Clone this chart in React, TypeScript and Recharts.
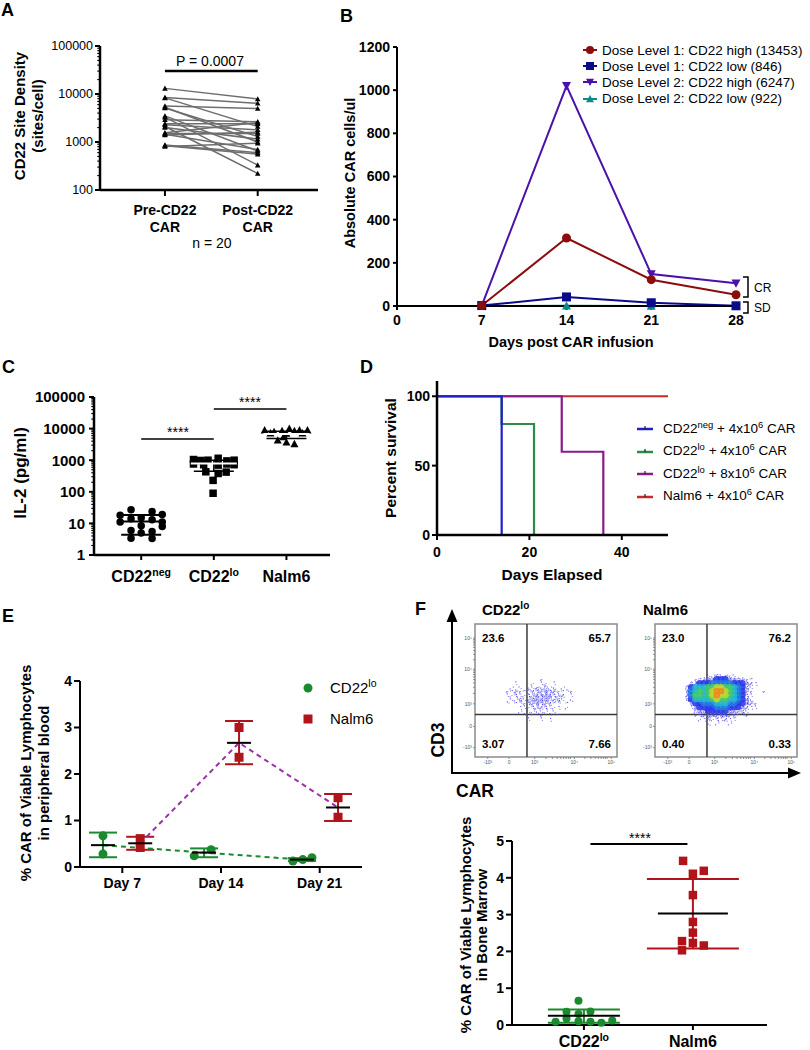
import React from 'react';
import {
  LineChart, Line, XAxis, YAxis, ScatterChart, Scatter, ReferenceLine, ReferenceArea, ErrorBar, Legend,
} from 'recharts';

const FONT = '"Liberation Sans", Arial, Helvetica, sans-serif';
const AX = { stroke: '#000', strokeWidth: 2 };

// ================= Panel A =================
const aCategoryLines = [['Pre-CD22', 'CAR'], ['Post-CD22', 'CAR']];
const aPre = [13100, 8500, 8300, 5600, 5300, 5100, 3500, 3300, 2900, 2400, 2300, 2100, 2000, 1550, 1500, 1450, 1400, 870, 840, 810];
const aPost = [7900, 6400, 2100, 5000, 1000, 1300, 650, 330, 2650, 2400, 1800, 220, 1150, 2550, 1500, 700, 1600, 600, 560, 950];
const aPBarY = 30000;
const aYMajor = [100, 1000, 10000, 100000];

// ================= Panel B =================
const bDays = [7, 14, 21, 28];
const bXTicks = [0, 7, 14, 21, 28];
const bYTicks = [0, 200, 400, 600, 800, 1000, 1200];
const bNames = [
  'Dose Level 1: CD22 high (13453)',
  'Dose Level 1: CD22 low (846)',
  'Dose Level 2: CD22 high (6247)',
  'Dose Level 2: CD22 low (922)',
];
const bDL1High = [2, 315, 122, 52];
const bDL1Low = [2, 42, 15, 1];
const bDL2High = [2, 1020, 148, 105];
const bDL2Low = [0, 1, 0, 0];
const bColors = ['#8b0d0d', '#0b0b8a', '#4a12a8', '#0e8a8a'];
const bShapes = ['circle', 'square', 'triDown', 'triUp'];

// ================= Panel C =================
const cCatBase = ['CD22', 'CD22', 'Nalm6'];
const cCatSup = ['neg', 'lo', ''];
const cYMajor = [1, 10, 100, 1000, 10000, 100000];
const cNegOff = [-0.14, 0.15, -0.29, 0.29, -0.14, 0, 0.15, -0.29, 0.29, 0, 0.29, -0.14, 0, 0.15, -0.14, 0.15];
const cNegVal = [27, 24, 18, 19, 14, 15, 13, 11, 11, 8.5, 8, 6, 5, 5.5, 3.4, 3.3];
const cLoOff = [-0.28, -0.18, -0.08, 0.06, 0.18, 0.28, -0.28, -0.14, 0.06, 0.18, 0.28, -0.11, 0.06, 0.17, -0.01, -0.01];
const cLoVal = [1050, 980, 1000, 1150, 950, 1000, 760, 720, 700, 760, 720, 430, 380, 420, 230, 90];
const cNalmOff = [-0.3, -0.17, -0.06, 0.04, 0.11, 0.18, 0.29, -0.22, 0, 0.22, -0.12, 0, 0.11, -0.04];
const cNalmVal = [9000, 8000, 8500, 10000, 8500, 9000, 9000, 7200, 7000, 7200, 4300, 3700, 3300, 5500];
const cMean = [11.5, 780, 6800];
const cLow = [4.4, 450, 4900];
const cHigh = [18.5, 1000, 8300];
const cSigFrom = [1, 2];
const cSigTo = [2, 3];
const cSigY = [4700, 42000];

// ================= Panel D =================
const dNames = [
  ['CD22', 'neg', ' + 4x10', '6', ' CAR'],
  ['CD22', 'lo', ' + 4x10', '6', ' CAR'],
  ['CD22', 'lo', ' + 8x10', '6', ' CAR'],
  ['Nalm6 + 4x10', '', '', '6', ' CAR'],
];
const dColors = ['#1f1fc8', '#2e8b4a', '#8a1a8a', '#c9282d'];
const dNeg = [{ x: 0, y: 100 }, { x: 14, y: 0 }];
const dLo4 = [{ x: 0, y: 100 }, { x: 14, y: 80 }, { x: 21, y: 0 }];
const dLo8 = [{ x: 0, y: 100 }, { x: 27, y: 60 }, { x: 36, y: 0 }];
const dNalm = [{ x: 0, y: 100 }, { x: 50, y: 100 }];
const dSeries = [dNeg, dLo4, dLo8, dNalm];

// ================= Panel E =================
const eDays = [7, 14, 21];
const eDayLabels = ['Day 7', 'Day 14', 'Day 21'];
const eGreenX = [5.63, 5.63, 12.1, 13.3, 19.1, 19.8, 20.45];
const eGreenY = [0.67, 0.28, 0.24, 0.37, 0.13, 0.16, 0.2];
const eRedX = [8.27, 8.27, 15.28, 15.28, 22.3, 22.3];
const eRedY = [0.61, 0.42, 3.0, 2.36, 1.49, 1.07];
const eGreenMeanX = [5.63, 12.8, 19.74];
const eGreenMean = [0.47, 0.31, 0.16];
const eGreenLow = [0.21, 0.21, 0.13];
const eGreenHigh = [0.74, 0.4, 0.19];
const eRedMeanX = [8.27, 15.28, 22.3];
const eRedMean = [0.51, 2.67, 1.28];
const eRedLow = [0.37, 2.21, 0.99];
const eRedHigh = [0.65, 3.14, 1.57];
const GREEN = '#1b8a2e';
const RED = '#b0141a';
const PURPLE = '#9b30a8';

// ================= Panel F (flow) =================
const FLOW_CELL = 3;
const FLOW_X0 = 18;
const FLOW_YTOP = 63;
const flowLoGrid = [
  '....................',
  '.........1..........',
  '...1...1.11.1.......',
  '..1.1.1121211.1.....',
  '.1121112223221111...',
  '.11211223333222.1...',
  '..1121233332221.1...',
  '.1.11122322211.1....',
  '....1112222111.1....',
  '....1.11111.1.......',
  '.....1.1.1.1.1......',
  '......1..1.1........',
  '....................',
];
const flowNalmGrid = [
  '......1121211.......',
  '...11233444332211...',
  '..2344455555444321..',
  '.2466677887765421...',
  '.3567678998765421..1',
  '.3577678988765421...',
  '.2466667877665431...',
  '..2445556665544321..',
  '..1344445554443211..',
  '...2334444433221....',
  '...1223333322111....',
  '....112121211.......',
  '......1.1..1........',
];
const flowGateX = 36.6;
const flowGateY = 32;
const flowXTicks = [9, 24, 42, 49.9, 54.5, 57.8, 60.4, 62.4, 64.2, 65.8, 67.2, 70, 77.3, 81.6, 84.6, 86.9, 88.8, 90.4, 91.8, 93, 96];
const flowYTicks = [7, 23, 40, 47.8, 52.4, 55.7, 58.2, 60.2, 62, 63.5, 64.8, 66, 73.1, 77.2, 80.1, 82.4, 84.3, 85.9, 87.2, 88.4, 89.5];
const flowXMajor = [9, 24, 42, 70, 96];
const flowYMajor = [7, 23, 40, 66, 89.5];
const flowTickLabels = ['-10³', '0', '10³', '10⁴', '10⁵'];
const flowQuadLo = ['23.6', '65.7', '3.07', '7.66'];
const flowQuadNalm = ['23.0', '76.2', '0.40', '0.33'];

// ================= Panel F (bone marrow) =================
const fCatBase = ['CD22', 'Nalm6'];
const fCatSup = ['lo', ''];
const fGreenOff = [-0.05, -0.16, 0.06, -0.05, -0.16, -0.26, -0.05, 0.06, 0.16, 0.26];
const fGreenVal = [0.66, 0.36, 0.37, 0.3, 0.18, 0.09, 0.1, 0.09, 0.06, 0.12];
const fRedOff = [-0.09, 0, 0.1, 0, 0, 0, -0.1, 0, 0.1, -0.1];
const fRedVal = [4.46, 4.11, 4.19, 3.53, 2.8, 2.51, 2.28, 2.23, 2.16, 2.03];
const fMean = [0.25, 3.03];
const fLow = [0.06, 2.08];
const fHigh = [0.42, 3.97];

// ================= helpers =================
const logTicks = (majors: number[]) =>
  majors.flatMap((m, i) => (i === majors.length - 1 ? [m] : [1, 2, 3, 4, 5, 6, 7, 8, 9].map((k) => k * m)));

const Marker = ({ cx, cy, shape, color, size }: any) => {
  if (cx == null || cy == null || isNaN(cx) || isNaN(cy)) return <g />;
  const s = size;
  if (shape === 'circle') return <circle cx={cx} cy={cy} r={s / 2} fill={color} />;
  if (shape === 'square') return <rect x={cx - s / 2} y={cy - s / 2} width={s} height={s} fill={color} />;
  if (shape === 'triDown')
    return <path d={`M${cx - s / 2},${cy - s * 0.42}L${cx + s / 2},${cy - s * 0.42}L${cx},${cy + s * 0.5}Z`} fill={color} />;
  return <path d={`M${cx - s / 2},${cy + s * 0.42}L${cx + s / 2},${cy + s * 0.42}L${cx},${cy - s * 0.5}Z`} fill={color} />;
};

const LogYTick = (p: any) => {
  const { x, y, payload, majors, fontSize, fontWeight, gap, len } = p;
  const v = payload.value;
  const isMajor = majors.includes(v);
  const ax = x + gap;
  return (
    <g>
      <line x1={ax - (isMajor ? len : len * 0.55)} x2={ax} y1={y} y2={y} stroke="#000" strokeWidth={isMajor ? 2 : 1.1} />
      {isMajor && (
        <text x={x} y={y} dy="0.355em" textAnchor="end" fontSize={fontSize} fontWeight={fontWeight} fill="#000">
          {v}
        </text>
      )}
    </g>
  );
};

const TwoLineTick = (p: any) => {
  const { x, y, payload, lines } = p;
  const ls = lines[Math.round(payload.value) - 1] || ['', ''];
  return (
    <text x={x} y={y} textAnchor="middle" fontSize={14} fontWeight="bold" fill="#000">
      <tspan x={x} dy="0.71em">{ls[0]}</tspan>
      <tspan x={x} dy="17">{ls[1]}</tspan>
    </text>
  );
};

const SupTick = (p: any) => {
  const { x, y, payload, bases, sups, fontSize } = p;
  const i = Math.round(payload.value) - 1;
  return (
    <text x={x} y={y} dy="0.71em" textAnchor="middle" fontSize={fontSize} fontWeight="bold" fill="#000">
      {bases[i]}
      {sups[i] ? <tspan dy={-fontSize * 0.42} fontSize={fontSize * 0.66}>{sups[i]}</tspan> : null}
    </text>
  );
};

const meanBar = (half: number, color: string) => (p: any) =>
  p.cx == null ? <g /> : <line x1={p.cx - half} x2={p.cx + half} y1={p.cy} y2={p.cy} stroke={color} strokeWidth={2} />;

const dotShape = (shape: string, color: string, size: number) => (p: any) =>
  <Marker cx={p.cx} cy={p.cy} shape={shape} color={color} size={size} />;

const summary = (xs: number[], mean: number[], low: number[], high: number[]) =>
  xs.map((x, i) => ({ x, y: mean[i], err: [mean[i] - low[i], high[i] - mean[i]] }));

// ================= Panel A =================
const aRows = [aPre, aPost].map((vals, i) => {
  const row: any = { x: i + 1 };
  vals.forEach((v, k) => (row[`s${k}`] = v));
  return row;
});

function PanelA() {
  return (
    <LineChart width={330} height={260} data={aRows} margin={{ top: 46, right: 12, bottom: 20, left: 40 }}>
      <XAxis dataKey="x" type="number" domain={[0.3, 2.65]} ticks={[1, 2]} interval={0} height={50}
        axisLine={{ stroke: '#000', strokeWidth: 2.5 }} tickLine={{ stroke: '#000', strokeWidth: 2 }} tickSize={6} tickMargin={9}
        tick={(p: any) => <TwoLineTick {...p} lines={aCategoryLines} />} />
      <YAxis type="number" scale="log" domain={[100, 100000]} ticks={logTicks(aYMajor)} interval={0} width={60}
        axisLine={{ stroke: '#000', strokeWidth: 2.5 }} tickLine={false} tickSize={5} tickMargin={2}
        tick={(p: any) => <LogYTick {...p} majors={aYMajor} fontSize={12.5} fontWeight="normal" gap={7} len={5} />} />
      {aPre.map((_, k) => (
        <Line key={k} dataKey={`s${k}`} stroke="#6e6e6e" strokeWidth={1.5} isAnimationActive={false}
          dot={(p: any) => <Marker key={`d${k}-${p.index}`} cx={p.cx} cy={p.cy} shape="triUp" color="#000" size={5.5} />} />
      ))}
      <ReferenceLine segment={[{ x: 1, y: aPBarY }, { x: 2, y: aPBarY }]} stroke="#000" strokeWidth={2.5} />
    </LineChart>
  );
}

// ================= Panel B =================
const bRows = bDays.map((d, i) => ({ day: d, s0: bDL1High[i], s1: bDL1Low[i], s2: bDL2High[i], s3: bDL2Low[i] }));
const bDrawOrder = [3, 2, 1, 0];

const BLegend = () => (
  <div style={{ fontFamily: FONT, fontSize: 13.5, color: '#000' }}>
    {bNames.map((n, i) => (
      <div key={i} style={{ display: 'flex', alignItems: 'center', height: 16.2, whiteSpace: 'nowrap' }}>
        <svg width={14} height={12}>
          <line x1={0} x2={14} y1={6} y2={6} stroke={bColors[i]} strokeWidth={2} />
          <Marker cx={7} cy={6} shape={bShapes[i]} color={bColors[i]} size={8} />
        </svg>
        <span style={{ marginLeft: 5 }}>{n}</span>
      </div>
    ))}
  </div>
);

function PanelB() {
  return (
    <LineChart width={480} height={340} data={bRows} margin={{ top: 47, right: 74, bottom: 4, left: 7 }}>
      <XAxis dataKey="day" type="number" domain={[0, 28]} ticks={bXTicks} interval={0} height={30}
        axisLine={AX} tickLine={AX} tickSize={4} tickMargin={5}
        tick={{ fontSize: 14, fontWeight: 'bold', fill: '#000' }} />
      <YAxis type="number" domain={[0, 1200]} ticks={bYTicks} interval={0} width={60}
        axisLine={AX} tickLine={AX} tickSize={4} tickMargin={3}
        tick={{ fontSize: 14, fontWeight: 'bold', fill: '#000' }} />
      {bDrawOrder.map((i) => (
        <Line key={i} dataKey={`s${i}`} name={bNames[i]} stroke={bColors[i]} strokeWidth={2} isAnimationActive={false}
          dot={(p: any) => <Marker key={`b${i}-${p.index}`} cx={p.cx} cy={p.cy} shape={bShapes[i]} color={bColors[i]} size={9} />} />
      ))}
      <Legend layout="vertical" align="center" verticalAlign="middle" content={() => <BLegend />}
        wrapperStyle={{ left: 253, top: 42, width: 230, height: 70 }} />
    </LineChart>
  );
}

// ================= Panel C =================
const cNegPts = cNegOff.map((o, i) => ({ x: 1 + o, y: cNegVal[i] }));
const cLoPts = cLoOff.map((o, i) => ({ x: 2 + o, y: cLoVal[i] }));
const cNalmPts = cNalmOff.map((o, i) => ({ x: 3 + o, y: cNalmVal[i] }));
const cSummary = summary([1, 2, 3], cMean, cLow, cHigh);

function PanelC() {
  return (
    <ScatterChart width={340} height={240} margin={{ top: 37, right: 10, bottom: 10, left: 24 }}>
      <XAxis type="number" dataKey="x" domain={[0.35, 3.6]} ticks={[1, 2, 3]} interval={0} height={35}
        axisLine={{ stroke: '#000', strokeWidth: 2.5 }} tickLine={AX} tickSize={5} tickMargin={11}
        tick={(p: any) => <SupTick {...p} bases={cCatBase} sups={cCatSup} fontSize={16} />} />
      <YAxis type="number" dataKey="y" scale="log" domain={[1, 100000]} ticks={logTicks(cYMajor)} interval={0} width={70}
        axisLine={{ stroke: '#000', strokeWidth: 2.5 }} tickLine={false} tickSize={5} tickMargin={4}
        tick={(p: any) => <LogYTick {...p} majors={cYMajor} fontSize={15} fontWeight="bold" gap={9} len={5} />} />
      <Scatter data={cNegPts} shape={dotShape('circle', '#000', 7.5)} isAnimationActive={false} />
      <Scatter data={cLoPts} shape={dotShape('square', '#000', 7.5)} isAnimationActive={false} />
      <Scatter data={cNalmPts} shape={dotShape('triUp', '#000', 8)} isAnimationActive={false} />
      <Scatter data={[cSummary[0]]} shape={meanBar(21, '#000')} isAnimationActive={false}>
        <ErrorBar dataKey="err" direction="y" width={20} stroke="#000" strokeWidth={2} />
      </Scatter>
      <Scatter data={[cSummary[1], cSummary[2]]} shape={meanBar(23, '#fff')} isAnimationActive={false}>
        <ErrorBar dataKey="err" direction="y" width={20} stroke="#000" strokeWidth={1.5} />
      </Scatter>
      {cSigY.map((y, i) => (
        <ReferenceLine key={i} segment={[{ x: cSigFrom[i], y }, { x: cSigTo[i], y }]} stroke="#000" strokeWidth={1.5} />
      ))}
    </ScatterChart>
  );
}

// ================= Panel D =================
const DLegend = () => (
  <div style={{ fontFamily: FONT, fontSize: 13.5, color: '#000' }}>
    {dNames.map((parts, i) => (
      <div key={i} style={{ display: 'flex', alignItems: 'center', height: 22.5, whiteSpace: 'nowrap' }}>
        <svg width={16} height={12}>
          <line x1={0} x2={16} y1={7} y2={7} stroke={dColors[i]} strokeWidth={2.5} />
          <line x1={8} x2={8} y1={4} y2={7} stroke="#222" strokeWidth={1.2} />
        </svg>
        <span style={{ marginLeft: 10 }}>
          {parts[0]}
          {parts[1] ? <span style={{ fontSize: '0.7em', verticalAlign: 'super', lineHeight: 0 }}>{parts[1]}</span> : null}
          {parts[2]}
          <span style={{ fontSize: '0.7em', verticalAlign: 'super', lineHeight: 0 }}>{parts[3]}</span>
          {parts[4]}
        </span>
      </div>
    ))}
  </div>
);

function PanelD() {
  const order = [3, 2, 1, 0];
  return (
    <LineChart width={470} height={240} margin={{ top: 21, right: 142, bottom: 35, left: 47 }}>
      <XAxis dataKey="x" type="number" domain={[0, 50]} ticks={[0, 20, 40]} interval={0} height={30}
        axisLine={{ stroke: '#000', strokeWidth: 2.5 }} tickLine={AX} tickSize={5} tickMargin={7}
        tick={{ fontSize: 14, fontWeight: 'bold', fill: '#000' }} />
      <YAxis dataKey="y" type="number" domain={[0, 111]} ticks={[0, 50, 100]} interval={0} width={50}
        axisLine={{ stroke: '#000', strokeWidth: 2.5 }} tickLine={AX} tickSize={5} tickMargin={2}
        tick={{ fontSize: 14, fontWeight: 'bold', fill: '#000' }} />
      {order.map((i) => (
        <Line key={i} data={dSeries[i]} dataKey="y" type="stepAfter" stroke={dColors[i]} strokeWidth={2.2}
          dot={false} isAnimationActive={false} />
      ))}
      <Legend layout="vertical" align="center" verticalAlign="middle" content={() => <DLegend />}
        wrapperStyle={{ left: 297, top: 57, width: 175, height: 92 }} />
    </LineChart>
  );
}

// ================= Panel E =================
const eGreenPts = eGreenX.map((x, i) => ({ x, y: eGreenY[i] }));
const eRedPts = eRedX.map((x, i) => ({ x, y: eRedY[i] }));
const eGreenSum = summary(eGreenMeanX, eGreenMean, eGreenLow, eGreenHigh);
const eRedSum = summary(eRedMeanX, eRedMean, eRedLow, eRedHigh);

const ELegend = () => (
  <div style={{ fontFamily: FONT, fontSize: 15, color: '#000' }}>
    <div style={{ display: 'flex', alignItems: 'center', height: 31 }}>
      <svg width={12} height={12}><circle cx={6} cy={6} r={4.5} fill={GREEN} /></svg>
      <span style={{ marginLeft: 16 }}>CD22<span style={{ fontSize: '0.7em', verticalAlign: 'super', lineHeight: 0 }}>lo</span></span>
    </div>
    <div style={{ display: 'flex', alignItems: 'center', height: 31 }}>
      <svg width={12} height={12}><rect x={1.5} y={1.5} width={9} height={9} fill={RED} /></svg>
      <span style={{ marginLeft: 16 }}>Nalm6</span>
    </div>
  </div>
);

function PanelE() {
  return (
    <ScatterChart width={420} height={280} margin={{ top: 61, right: 58, bottom: 3, left: 40 }}>
      <XAxis type="number" dataKey="x" domain={[4, 24]} ticks={eDays} interval={0} height={30}
        tickFormatter={(v: number) => eDayLabels[eDays.indexOf(v)]}
        axisLine={AX} tickLine={AX} tickSize={6} tickMargin={5}
        tick={{ fontSize: 14, fontWeight: 'bold', fill: '#000' }} />
      <YAxis type="number" dataKey="y" domain={[0, 4]} ticks={[0, 1, 2, 3, 4]} interval={0} width={40}
        axisLine={AX} tickLine={AX} tickSize={6} tickMargin={2}
        tick={{ fontSize: 14, fontWeight: 'bold', fill: '#000' }} />
      <Scatter data={eGreenSum} shape={() => <g />} line={{ stroke: GREEN, strokeWidth: 2, strokeDasharray: '5 4' }} isAnimationActive={false} />
      <Scatter data={eRedSum} shape={() => <g />} line={{ stroke: PURPLE, strokeWidth: 2, strokeDasharray: '5 4' }} isAnimationActive={false} />
      <Scatter data={eGreenPts} shape={dotShape('circle', GREEN, 9)} isAnimationActive={false} />
      <Scatter data={eRedPts} shape={dotShape('square', RED, 9)} isAnimationActive={false} />
      <Scatter data={eGreenSum} shape={meanBar(12, '#000')} isAnimationActive={false}>
        <ErrorBar dataKey="err" direction="y" width={14} stroke={GREEN} strokeWidth={2} />
      </Scatter>
      <Scatter data={eRedSum} shape={meanBar(12, '#000')} isAnimationActive={false}>
        <ErrorBar dataKey="err" direction="y" width={14} stroke={RED} strokeWidth={2} />
      </Scatter>
      <Legend layout="vertical" align="center" verticalAlign="middle" content={() => <ELegend />}
        wrapperStyle={{ left: 302, top: 52, width: 110, height: 62 }} />
    </ScatterChart>
  );
}

// ================= Panel F flow =================
const FLOW_PX_X = 142 / 100;
const FLOW_PX_Y = 133 / 100;
const CELL_W = FLOW_CELL * FLOW_PX_X;
const CELL_H = FLOW_CELL * FLOW_PX_Y;
const dotPattern = [[0.2, 0.3], [0.7, 0.7], [0.45, 0.05], [0.85, 0.35], [0.1, 0.8], [0.55, 0.45], [0.3, 0.6], [0.8, 0.9], [0.6, 0.2]];
const dotCount = [0, 2, 5, 8];
const heatColors: any = { 4: '#2c3ae8', 5: '#1f78e4', 6: '#22b4cf', 7: '#3fc86a', 8: '#b8d62a', 9: '#ee8a1c' };
const dotColors = ['#3a3aff', '#8a78e0', '#2626d6', '#6a6af0'];

const gridToCells = (rows: string[]) =>
  rows.flatMap((row, r) =>
    row.split('').map((ch, c) => ({
      x: FLOW_X0 + FLOW_CELL * (c + 0.5),
      y: FLOW_YTOP - FLOW_CELL * (r + 0.5),
      d: ch === '.' ? 0 : Number(ch),
      v: (r * 5 + c * 3) % 9,
    })),
  ).filter((p) => p.d > 0).sort((a, b) => a.d - b.d);

const flowLoCells = gridToCells(flowLoGrid);
const flowNalmCells = gridToCells(flowNalmGrid);

const FlowCell = (p: any) => {
  const { cx, cy, payload } = p;
  if (cx == null) return <g />;
  const d = payload.d;
  const x0 = cx - CELL_W / 2;
  const y0 = cy - CELL_H / 2;
  if (d >= 4) {
    return (
      <g>
        <ellipse cx={cx} cy={cy} rx={CELL_W * 0.78} ry={CELL_H * 0.78} fill={heatColors[d]} opacity={0.9} />
      </g>
    );
  }
  const n = dotCount[d];
  return (
    <g>
      {Array.from({ length: n }).map((_, i) => {
        const [fx, fy] = dotPattern[(i + payload.v) % 9];
        return (
          <rect key={i} x={x0 + fx * CELL_W} y={y0 + fy * CELL_H} width={1.1} height={1.1}
            fill={dotColors[(i + payload.v) % 4]} opacity={0.85} />
        );
      })}
    </g>
  );
};

const flowFmt = (majors: number[]) => (v: number) => {
  const i = majors.indexOf(v);
  return i >= 0 ? flowTickLabels[i] : '';
};

function FlowPlot({ cells }: any) {
  return (
    <ScatterChart width={170} height={160} margin={{ top: 9, right: 8, bottom: 3, left: 0 }}>
      <XAxis type="number" dataKey="x" domain={[0, 100]} ticks={flowXTicks} interval={0} height={15}
        axisLine={false} tickLine={{ stroke: '#777', strokeWidth: 0.8 }} tickSize={2} tickMargin={1}
        tickFormatter={flowFmt(flowXMajor)} tick={{ fontSize: 5, fill: '#555' }} />
      <YAxis type="number" dataKey="y" domain={[0, 100]} ticks={flowYTicks} interval={0} width={20}
        axisLine={false} tickLine={{ stroke: '#777', strokeWidth: 0.8 }} tickSize={2} tickMargin={1}
        tickFormatter={flowFmt(flowYMajor)} tick={{ fontSize: 5, fill: '#555' }} />
      <Scatter data={cells} shape={FlowCell} isAnimationActive={false} />
      <ReferenceLine x={flowGateX} stroke="#3a3a3a" strokeWidth={1.5} />
      <ReferenceLine y={flowGateY} stroke="#3a3a3a" strokeWidth={1.5} />
      <ReferenceArea x1={0} x2={100} y1={0} y2={100} fill="none" fillOpacity={0} stroke="#8c8c8c" strokeWidth={1.5} />
    </ScatterChart>
  );
}

// ================= Panel F bone marrow =================
const fGreenPts = fGreenOff.map((o, i) => ({ x: 1 + o, y: fGreenVal[i] }));
const fRedPts = fRedOff.map((o, i) => ({ x: 2 + o, y: fRedVal[i] }));
const fSum = summary([1, 2], fMean, fLow, fHigh);

function PanelFB() {
  return (
    <ScatterChart width={390} height={220} margin={{ top: 11, right: 43, bottom: 0, left: 52 }}>
      <XAxis type="number" dataKey="x" domain={[0.34, 2.68]} ticks={[1, 2]} interval={0} height={25}
        axisLine={AX} tickLine={AX} tickSize={5} tickMargin={6}
        tick={(p: any) => <SupTick {...p} bases={fCatBase} sups={fCatSup} fontSize={16} />} />
      <YAxis type="number" dataKey="y" domain={[0, 5]} ticks={[0, 1, 2, 3, 4, 5]} interval={0} width={40}
        axisLine={AX} tickLine={AX} tickSize={6} tickMargin={2}
        tick={{ fontSize: 14, fontWeight: 'bold', fill: '#000' }} />
      <Scatter data={fGreenPts} shape={dotShape('circle', GREEN, 8)} isAnimationActive={false} />
      <Scatter data={fRedPts} shape={dotShape('square', RED, 8.5)} isAnimationActive={false} />
      <Scatter data={[fSum[0]]} shape={meanBar(36, '#000')} isAnimationActive={false}>
        <ErrorBar dataKey="err" direction="y" width={36} stroke={GREEN} strokeWidth={2} />
      </Scatter>
      <Scatter data={[fSum[1]]} shape={meanBar(35, '#000')} isAnimationActive={false}>
        <ErrorBar dataKey="err" direction="y" width={46} stroke={RED} strokeWidth={2} />
      </Scatter>
      <ReferenceLine segment={[{ x: 1.06, y: 4.92 }, { x: 1.95, y: 4.92 }]} stroke="#000" strokeWidth={2} />
    </ScatterChart>
  );
}

// ================= overlay text =================
const VText = ({ x, y, size, children, bold = true }: any) => (
  <text x={x} y={y} transform={`rotate(-90 ${x} ${y})`} textAnchor="middle" dominantBaseline="central"
    fontSize={size} fontWeight={bold ? 'bold' : 'normal'} fill="#000">{children}</text>
);
const T = ({ x, y, size, children, bold = false, anchor = 'start' }: any) => (
  <text x={x} y={y} fontSize={size} fontWeight={bold ? 'bold' : 'normal'} textAnchor={anchor} fill="#000">{children}</text>
);

function Overlay() {
  return (
    <svg width={810} height={1050} style={{ position: 'absolute', left: 0, top: 0, pointerEvents: 'none', fontFamily: FONT }}>
      {/* panel letters */}
      <T x={1} y={16} size={18} bold>A</T>
      <T x={340} y={22} size={18} bold>B</T>
      <T x={2} y={373} size={18} bold>C</T>
      <T x={360} y={373} size={18} bold>D</T>
      <T x={2} y={622} size={18} bold>E</T>
      <T x={415} y={615} size={18} bold>F</T>

      {/* A */}
      <VText x={19} y={116} size={15}>CD22 Site Density</VText>
      <VText x={37} y={116} size={15}>(sites/cell)</VText>
      <T x={210} y={66} size={14} anchor="middle">P = 0.0007</T>
      <T x={212} y={248} size={14} anchor="middle">n = 20</T>

      {/* B */}
      <VText x={350} y={173} size={14.5}>Absolute CAR cells/ul</VText>
      <T x={571} y={347} size={14.5} bold anchor="middle">Days post CAR infusion</T>
      <path d="M743 277 H748 V297 H743" fill="none" stroke="#000" strokeWidth={1.5} />
      <path d="M743 302 H748 V313 H743" fill="none" stroke="#000" strokeWidth={1.5} />
      <T x={754} y={292} size={12}>CR</T>
      <T x={754} y={312} size={12}>SD</T>

      {/* C */}
      <VText x={20} y={473} size={17}>IL-2 (pg/ml)</VText>
      <T x={178} y={437} size={14} anchor="middle">****</T>
      <T x={250} y={407} size={14} anchor="middle">****</T>

      {/* D */}
      <VText x={390} y={458} size={15.5}>Percent survival</VText>
      <T x={552} y={580} size={15.5} bold anchor="middle">Days Elapsed</T>

      {/* E */}
      <VText x={25} y={773} size={15}>% CAR of Viable Lymphocytes</VText>
      <VText x={43} y={773} size={15}>in peripheral blood</VText>

      {/* F flow */}
      <text x={482} y={615} fontSize={15} fontWeight="bold" fill="#000">CD22<tspan dy={-6} fontSize={10}>lo</tspan></text>
      <T x={643} y={615} size={15} bold>Nalm6</T>
      <line x1={452} y1={774} x2={452} y2={620} stroke="#000" strokeWidth={2} />
      <path d="M452 609 L446.5 622 L457.5 622 Z" fill="#000" />
      <line x1={451} y1={773} x2={790} y2={773} stroke="#000" strokeWidth={2} />
      <path d="M801 773 L788 767.5 L788 778.5 Z" fill="#000" />
      <VText x={438} y={740} size={17.5}>CD3</VText>
      <T x={456} y={797} size={17.5} bold>CAR</T>
      <T x={482} y={642} size={11.5} bold>{flowQuadLo[0]}</T>
      <T x={611} y={642} size={11.5} bold anchor="end">{flowQuadLo[1]}</T>
      <T x={482} y={748} size={11.5} bold>{flowQuadLo[2]}</T>
      <T x={611} y={748} size={11.5} bold anchor="end">{flowQuadLo[3]}</T>
      <T x={662} y={642} size={11.5} bold>{flowQuadNalm[0]}</T>
      <T x={791} y={642} size={11.5} bold anchor="end">{flowQuadNalm[1]}</T>
      <T x={662} y={748} size={11.5} bold>{flowQuadNalm[2]}</T>
      <T x={791} y={748} size={11.5} bold anchor="end">{flowQuadNalm[3]}</T>

      {/* F bone marrow */}
      <VText x={465} y={925} size={15}>% CAR of Viable Lymphocytes</VText>
      <VText x={481} y={925} size={15}>in Bone Marrow</VText>
      <T x={640} y={843} size={14} anchor="middle">****</T>
    </svg>
  );
}

const place = (left: number, top: number) => ({ position: 'absolute' as const, left, top });

export default function App() {
  return (
    <div style={{ position: 'absolute', left: 0, top: 0, width: 810, height: 1050, background: '#fff', fontFamily: FONT, overflow: 'hidden' }}>
      <div style={place(0, 0)}><PanelA /></div>
      <div style={place(330, 0)}><PanelB /></div>
      <div style={place(0, 360)}><PanelC /></div>
      <div style={place(340, 360)}><PanelD /></div>
      <div style={place(0, 620)}><PanelE /></div>
      <div style={place(455, 615)}><FlowPlot cells={flowLoCells} /></div>
      <div style={place(635, 615)}><FlowPlot cells={flowNalmCells} /></div>
      <div style={place(420, 830)}><PanelFB /></div>
      <Overlay />
    </div>
  );
}
